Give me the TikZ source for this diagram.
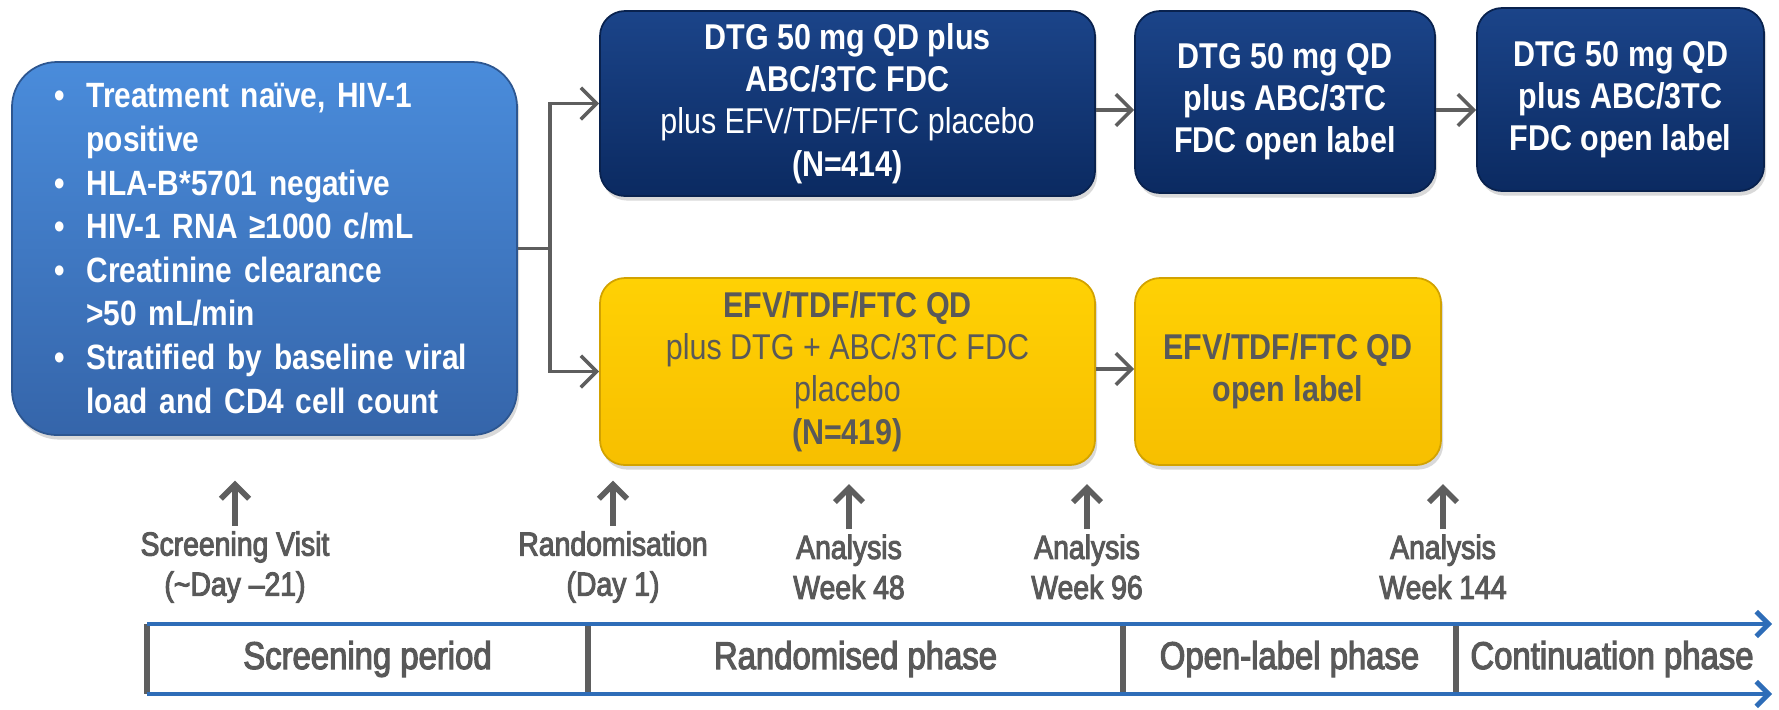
\documentclass[tikz,border=0pt]{standalone}
\usepackage{fontspec}
\setmainfont{Liberation Sans}[FakeStretch=0.85]
\newfontfamily\semib{Liberation Sans}[FakeStretch=0.85, FakeBold=3, Ligatures=TeX]
\usepackage{xcolor}
\usetikzlibrary{positioning,arrows.meta,calc,shadows}
\definecolor{ink}{HTML}{595959}
\definecolor{cCrit}{HTML}{4A8CDB}
\definecolor{cCritLo}{HTML}{3565AA}
\definecolor{cNavy}{HTML}{1B4489}
\definecolor{cNavyLo}{HTML}{0B2A61}
\definecolor{cGold}{HTML}{FFD104}
\definecolor{cGoldLo}{HTML}{F7BF00}
\definecolor{cLine}{HTML}{2E6DB8}
\definecolor{cArr}{HTML}{5E5E5E}
\newcommand{\critem}[1]{\raggedright\noindent\hangindent=0.32cm\hangafter=1\makebox[0.32cm][l]{\textbullet}#1\par}
\tikzset{
  arm/.style   = {rounded corners=0.25cm, align=center, inner sep=0pt, line width=0.5pt,
                  font=\fontsize{10.2}{12}\selectfont,
                  drop shadow={shadow xshift=0.6pt, shadow yshift=-1.3pt, opacity=0.3}},
  crit/.style  = {arm, rounded corners=0.45cm, top color=cCrit, bottom color=cCritLo,
                  draw=cCritLo!85!black, text=white, align=left, text width=4.2cm,
                  font=\fontsize{10}{12.4}\selectfont\bfseries},
  dtg/.style   = {arm, top color=cNavy, bottom color=cNavyLo, draw=cNavyLo!80!black, text=white},
  efv/.style   = {arm, top color=cGold, bottom color=cGoldLo, draw=cGoldLo!85!black, text=ink},
  mile/.style  = {align=center, inner sep=0pt, text=ink, font=\fontsize{9.5}{11.4}\semib},
  phase/.style = {inner sep=0pt, text=ink, font=\fontsize{11}{13}\semib},
  ln/.style    = {draw=cArr, line width=1pt},
  ar/.style    = {ln, -{Straight Barb[length=4.5pt,width=9pt,line width=1pt]}},
  upar/.style  = {draw=cArr, line width=1.6pt, -{Straight Barb[length=4pt,width=8pt,line width=1.6pt]}},
  tline/.style = {draw=cLine, line width=1.4pt, -{Straight Barb[length=3.5pt,width=7pt,line width=1.4pt]}},
  sep/.style   = {draw=cArr, line width=1.5pt},
}
\begin{document}
\begin{tikzpicture}
  \useasboundingbox (0,0) rectangle (17.79,-7.09);

  % eligibility
  \node[crit, minimum width=5.05cm, minimum height=3.73cm] (crit) at (2.645,-2.485)
       {\critem{Treatment naïve, HIV-1\newline positive}
        \critem{HLA-B*5701 negative}
        \critem{HIV-1 RNA ≥1000 c/mL}
        \critem{Creatinine clearance\newline \textgreater50 mL/min}
        \critem{Stratified by baseline viral\newline load and CD4 cell count}};

  % arms
  \node[dtg, minimum width=4.95cm, minimum height=1.85cm] (dtgr) at (8.475,-1.035)
       {\textbf{DTG 50 mg QD plus}\\ \textbf{ABC/3TC FDC}\\ plus EFV/TDF/FTC placebo\\ \textbf{(N=414)}};
  \node[dtg, minimum width=3.0cm, minimum height=1.82cm] (dtgo) at (12.85,-1.02)
       {\textbf{DTG 50 mg QD}\\ \textbf{plus ABC/3TC}\\ \textbf{FDC open label}};
  \node[dtg, minimum width=2.87cm, minimum height=1.83cm] (dtgc) at (16.205,-0.995)
       {\textbf{DTG 50 mg QD}\\ \textbf{plus ABC/3TC}\\ \textbf{FDC open label}};
  \node[efv, minimum width=4.95cm, minimum height=1.87cm] (efvr) at (8.475,-3.715)
       {\textbf{EFV/TDF/FTC QD}\\ plus DTG + ABC/3TC FDC\\ placebo\\ \textbf{(N=419)}};
  \node[efv, minimum width=3.06cm, minimum height=1.87cm] (efvo) at (12.88,-3.715)
       {\textbf{EFV/TDF/FTC QD}\\ \textbf{open label}};

  \coordinate (br) at (5.5,-2.485);
  \draw[ln] (crit.east) -- (br);
  \draw[ar] (br) |- (dtgr.west);
  \draw[ar] (br) |- (efvr.west);
  \draw[ar] (dtgr.east |- 0,-1.1) -- (dtgo.west |- 0,-1.1);
  \draw[ar] (dtgo.east |- 0,-1.1) -- (dtgc.west |- 0,-1.1);
  \draw[ar] (efvr.east |- 0,-3.69) -- (efvo.west |- 0,-3.69);

  % milestones
  \node[mile] (mscr) at (2.35,-5.67) {Screening Visit\\ (\textasciitilde Day –21)};
  \node[mile] (mran) at (6.13,-5.67) {Randomisation\\ (Day 1)};
  \node[mile] (mw48) at (8.49,-5.67) {Analysis\\ Week 48};
  \node[mile] (mw96) at (10.87,-5.67) {Analysis\\ Week 96};
  \node[mile] (mw144) at (14.43,-5.67) {Analysis\\ Week 144};
  \draw[upar] (mscr.north) ++(0,0.05) -- ++(0,0.45);
  \draw[upar] (mran.north) ++(0,0.05) -- ++(0,0.45);
  \draw[upar] (mw48.north) ++(0,0.05) -- ++(0,0.45);
  \draw[upar] (mw96.north) ++(0,0.05) -- ++(0,0.45);
  \draw[upar] (mw144.north) ++(0,0.05) -- ++(0,0.45);

  % timeline
  \coordinate (t0) at (1.47,-6.24);  \coordinate (t1) at (17.72,-6.24);
  \coordinate (b0) at (1.47,-6.94);  \coordinate (b1) at (17.72,-6.94);
  \draw[sep] (t0) -- (b0);
  \draw[sep] (5.88,-6.24) -- (5.88,-6.94);
  \draw[sep] (11.23,-6.24) -- (11.23,-6.94);
  \draw[sep] (14.56,-6.24) -- (14.56,-6.94);
  \draw[tline] (t0) -- (t1);
  \draw[tline] (b0) -- (b1);
  \node[phase] (pscr) at (3.675,-6.59) {Screening period};
  \node[phase] (pran) at (8.555,-6.59) {Randomised phase};
  \node[phase] (popn) at (12.895,-6.59) {Open-label phase};
  \node[phase] (pcon) at (16.12,-6.59) {Continuation phase};
\end{tikzpicture}
\end{document}
